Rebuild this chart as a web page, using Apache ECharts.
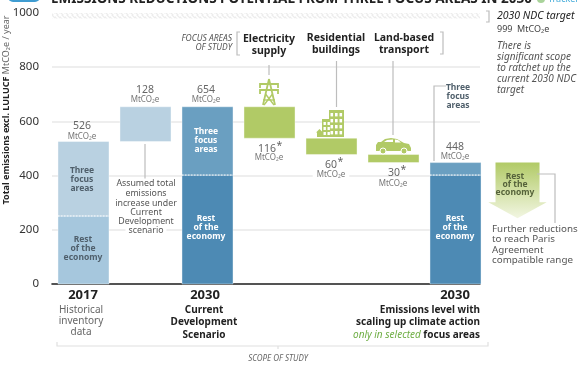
<!DOCTYPE html>
<html>
<head>
<meta charset="utf-8">
<style>
html, body { margin: 0; padding: 0; background: #fff; }
#chart { width: 580px; height: 366px; }
</style>
</head>
<body>
<div id="chart"></div>
<script src="https://cdn.jsdelivr.net/npm/echarts@6/dist/echarts.min.js"></script>
<script>
const FONT = '"Noto Sans", sans-serif';

const yTicks = [0, 200, 400, 600, 800, 1000];
const ndcTarget = 999;

// one entry per block: column, from, to, block kind
const segColumn = [0, 0, 1, 2, 2, 3, 4, 5, 6, 6];
const segLow = [0, 251, 526, 0, 402, 538, 478, 448, 0, 402];
const segHigh = [251, 526, 654, 402, 654, 654, 538, 478, 402, 448];
const segKind = ['pale', 'paler', 'paler', 'deep', 'mid', 'green', 'green', 'green', 'deep', 'mid'];

// dotted divider between focus areas and rest of economy
const splitColumn = [0, 2, 6];
const splitValue = [251, 402, 402];

// further reductions arrow: column, from, shoulder, tip
const arrowColumn = 7;
const arrowValues = [448, 302, 243];

const kindColors = { pale: '#a6c7dd', paler: '#b9d1e1', deep: '#4d8ab4', mid: '#6a9fc1', green: '#b1ca66' };
const GREEN = '#b1ca66';

// hatched band for the 2030 NDC target
const hatch = document.createElement('canvas');
hatch.width = 5;
hatch.height = 5;
const hctx = hatch.getContext('2d');
hctx.strokeStyle = '#ececec';
hctx.lineWidth = 1.3;
hctx.beginPath();
hctx.moveTo(-1, 1); hctx.lineTo(4, 6);
hctx.moveTo(1, -1); hctx.lineTo(6, 4);
hctx.stroke();

function txt(x, y, text, size, color, opt) {
    opt = opt || {};
    return {
        type: 'text', x: x, y: y, z: 100, rotation: opt.rotation || 0,
        style: Object.assign({
            text: text,
            font: (opt.italic ? 'italic ' : '') + (opt.bold ? 'bold ' : '') + size + 'px ' + FONT,
            fill: color,
            align: opt.align || 'center',
            verticalAlign: 'middle'
        }, opt.style || {})
    };
}
function lines(x, ys, rows, size, color, opt) {
    return rows.map((r, i) => txt(x, ys[i], r, size, color, opt));
}
function rule(points, color, width) {
    return { type: 'polyline', z: 90, shape: { points: points }, style: { stroke: color || '#bdbdbd', lineWidth: width || 1.2, fill: null } };
}
function box(x, y, w, h, fill) {
    return { type: 'rect', z: 95, shape: { x: x, y: y, width: w, height: h }, style: { fill: fill || GREEN } };
}
function poly(points, fill) {
    return { type: 'polygon', z: 95, shape: { points: points }, style: { fill: fill || GREEN } };
}
function unitLabel(x, y, bg) {
    return txt(x, y, 'MtCO₂e', 8, '#777', bg ? { style: { backgroundColor: '#fff', padding: [0, 4] } } : {});
}
function amount(x, y, value) {
    return txt(x, y, value, 10.5, '#666');
}
function starred(x, y, value) {
    return [txt(x, y, value, 10.5, '#666', { align: 'right' }), txt(x + 0.5, y - 3, '*', 10.5, '#666', { align: 'left' })];
}

const DARK = '#222';
const GREY = '#666';
const BLOCK = '#4f5f6b';

const graphics = [].concat(
    // header, cut off by the top of the picture
    [{ type: 'rect', z: 90, shape: { x: 8, y: -8, width: 32, height: 10, r: 5 }, style: { fill: '#3f9cd1' } }],
    txt(51, -1, 'EMISSIONS REDUCTIONS POTENTIAL FROM THREE FOCUS AREAS IN 2030', 13.5, DARK, { bold: true, align: 'left' }),
    [{ type: 'circle', z: 90, shape: { cx: 541, cy: -1, r: 4 }, style: { fill: '#a9d39a' } }],
    txt(548, -1, 'Tracker', 9, '#3fa9d8', { align: 'left' }),

    txt(6, 110, '', 9, DARK, {
        rotation: Math.PI / 2,
        style: {
            text: '{b|Total emissions excl. LULUCF} {g|MtCO₂e / year}',
            rich: {
                b: { font: 'bold 9px ' + FONT, fill: DARK },
                g: { font: '9px ' + FONT, fill: '#666' }
            }
        }
    }),

    // focus area heading
    lines(232, [39, 48], ['FOCUS AREAS', 'OF STUDY'], 8.5, '#555', { italic: true, align: 'right' }),
    [rule([[240, 32], [237, 32], [237, 55], [240, 55]]), rule([[440, 32], [443, 32], [443, 54], [440, 54]])],
    lines(269, [39, 51], ['Electricity', 'supply'], 10.5, DARK, { bold: true }),
    lines(336, [38, 50], ['Residential', 'buildings'], 10.5, DARK, { bold: true }),
    lines(404, [38, 50], ['Land-based', 'transport'], 10.5, DARK, { bold: true }),
    [rule([[269, 65], [269, 75]]), rule([[336.5, 61], [336.5, 107]]), rule([[393, 61], [393, 135]])],

    // right column
    [rule([[486, 11], [489, 11], [489, 22], [486, 22]])],
    txt(497, 16, '2030 NDC target', 10.5, DARK, { italic: true, align: 'left' }),
    txt(497, 29, ndcTarget + '  MtCO₂e', 9, '#444', { align: 'left' }),
    lines(497, [46, 57, 68, 79, 90], ['There is', 'significant scope', 'to ratchet up the', 'current 2030 NDC', 'target'], 10, '#555', { italic: true, align: 'left' }),

    // value labels
    amount(82, 126, '526'), unitLabel(82, 136.5),
    amount(145, 90, '128'), unitLabel(145, 99.5),
    amount(206, 90, '654'), unitLabel(206, 99.5),
    starred(276, 149, '116'), unitLabel(269, 158),
    starred(337, 165, '60'), unitLabel(331, 174.5, true),
    starred(400, 173, '30'), unitLabel(393, 184),
    amount(455, 147, '448'), unitLabel(455, 157),

    // block captions
    lines(82, [171, 180, 189], ['Three', 'focus', 'areas'], 8.5, BLOCK, { bold: true }),
    lines(83, [240, 249, 258], ['Rest', 'of the', 'economy'], 8.5, BLOCK, { bold: true }),
    lines(206, [132, 141, 150], ['Three', 'focus', 'areas'], 8.5, '#fff', { bold: true }),
    lines(206, [219, 228, 237], ['Rest', 'of the', 'economy'], 8.5, '#fff', { bold: true }),
    lines(455, [219, 228, 237], ['Rest', 'of the', 'economy'], 8.5, '#fff', { bold: true }),
    lines(515, [177, 185, 193], ['Rest', 'of the', 'economy'], 8.5, '#55623a', { bold: true }),

    // notes with leader lines
    [rule([[145, 144], [145, 179]])],
    lines(146, [183, 193, 203, 212, 221, 230], ['Assumed total', 'emissions', 'increase under', 'Current', 'Development', 'scenario'], 8.8, '#555', { style: { backgroundColor: '#fff', padding: [0, 3] } }),
    [rule([[446, 86], [434, 86], [434, 161]])],
    lines(458, [88, 97, 106], ['Three', 'focus', 'areas'], 8.5, BLOCK, { bold: true }),
    [rule([[537, 174], [555, 174], [555, 223]])],
    lines(492, [229, 239, 250, 260], ['Further reductions', 'to reach Paris', 'Agreement', 'compatible range'], 9.8, '#555', { align: 'left' }),

    // bottom captions
    txt(83, 295, '2017', 13, DARK, { bold: true }),
    lines(81, [310, 321, 332], ['Historical', 'inventory', 'data'], 10, GREY),
    txt(205, 295, '2030', 13, DARK, { bold: true }),
    lines(204, [310, 322, 335], ['Current', 'Development', 'Scenario'], 10, DARK, { bold: true }),
    txt(455, 295, '2030', 13, DARK, { bold: true }),
    lines(480, [310, 322], ['Emissions level with', 'scaling up climate action'], 10, DARK, { bold: true, align: 'right' }),
    txt(480, 335, '', 10, DARK, {
        align: 'right',
        style: {
            text: '{g|only in selected} {b|focus areas}',
            rich: {
                g: { font: 'italic 10px ' + FONT, fill: '#6fae45' },
                b: { font: 'bold 10px ' + FONT, fill: DARK }
            }
        }
    }),
    [rule([[57, 342], [57, 346], [488, 346], [488, 342]], '#e0e0e0'), rule([[278, 346], [278, 349]], '#e0e0e0')],
    txt(278, 359, 'SCOPE OF STUDY', 8, '#666', { italic: true }),

    // pylon
    [rule([[269, 79], [263, 105]], GREEN, 1.8), rule([[269, 79], [275, 105]], GREEN, 1.8),
     rule([[260, 88], [260, 84], [278, 84], [278, 88]], GREEN, 1.8),
     rule([[260, 94], [260, 90], [278, 90], [278, 94]], GREEN, 1.8),
     rule([[265.5, 94], [274, 105]], GREEN, 1.4), rule([[272.5, 94], [264, 105]], GREEN, 1.4),
     rule([[263, 100], [275, 100]], GREEN, 1.4)],

    // buildings
    [box(329, 110, 15, 27), box(322, 119, 10, 18), box(317, 132, 6, 5), poly([[316, 132.5], [319.5, 129], [323, 132.5]])],
    [330.5, 335, 339.5].reduce((a, x) => a.concat([113, 119, 125, 131].map(y => box(x, y, 2.6, 3.4, '#fff'))), []),
    [323.5, 327.5].reduce((a, x) => a.concat([122, 127, 132].map(y => box(x, y, 2.4, 3, '#fff'))), []),

    // car
    [poly([[376, 151], [376, 145], [378, 142], [381, 142], [385, 139], [391, 138], [397, 139], [404, 143], [409, 144], [411, 148], [411, 151]]),
     { type: 'circle', z: 96, shape: { cx: 383, cy: 151, r: 3 }, style: { fill: GREEN, stroke: '#fff', lineWidth: 1 } },
     { type: 'circle', z: 96, shape: { cx: 404, cy: 151, r: 3 }, style: { fill: GREEN, stroke: '#fff', lineWidth: 1 } },
     poly([[384, 142], [387, 140], [393, 139.5], [393, 142]], '#fff'),
     poly([[395, 139.5], [398, 140], [401, 142.5], [395, 142.5]], '#fff')]
);

const chart = echarts.init(document.getElementById('chart'), null, { renderer: 'canvas' });

chart.setOption({
    animation: false,
    backgroundColor: '#fff',
    grid: { left: 52, right: 100, top: 13, bottom: 82 },
    xAxis: {
        type: 'value', min: -0.508, max: 6.395,
        axisLabel: { show: false }, axisTick: { show: false }, splitLine: { show: false },
        axisLine: { show: true, onZero: true, lineStyle: { color: '#222', width: 1.6 } }
    },
    yAxis: {
        type: 'value', min: yTicks[0], max: yTicks[yTicks.length - 1], interval: 200,
        axisLine: { show: false }, axisTick: { show: false },
        axisLabel: { color: '#333', fontSize: 11.5, fontFamily: FONT, margin: 13, formatter: function (val) { return String(val); } },
        splitLine: {
            lineStyle: { color: '#e8e8e8', width: 1.5 },
            // top line is replaced by the hatched band
            showMaxLine: false
        }
    },
    series: [
        {
            // NDC band
            type: 'custom', z: 2, data: [[ndcTarget]],
            renderItem: function (params, api) {
                const left = api.coord([-0.508, 1000]);
                const right = api.coord([6.395, 980]);
                return {
                    type: 'rect',
                    shape: { x: left[0], y: left[1], width: right[0] - left[0], height: right[1] - left[1] },
                    style: { fill: { image: hatch, repeat: 'repeat' } }
                };
            }
        },
        {
            type: 'custom', z: 3,
            data: segColumn.map((c, i) => [c, segLow[i], segHigh[i], i]),
            encode: { x: 0, y: [1, 2] },
            renderItem: function (params, api) {
                const w = api.size([0.823, 0])[0];
                const top = api.coord([api.value(0), api.value(2)]);
                const bottom = api.coord([api.value(0), api.value(1)]);
                return {
                    type: 'rect',
                    shape: { x: top[0] - w / 2, y: top[1], width: w, height: bottom[1] - top[1] },
                    style: { fill: kindColors[segKind[api.value(3)]], stroke: '#fff', lineWidth: 0.4 }
                };
            }
        },
        {
            type: 'custom', z: 4,
            data: splitColumn.map((c, i) => [c, splitValue[i]]),
            renderItem: function (params, api) {
                const w = api.size([0.823, 0])[0];
                const p = api.coord([api.value(0), api.value(1)]);
                return {
                    type: 'line',
                    shape: { x1: p[0] - w / 2, y1: p[1], x2: p[0] + w / 2, y2: p[1] },
                    style: { stroke: '#fff', lineWidth: 0.9, lineDash: [1.5, 1.5] }
                };
            }
        },
        {
            type: 'custom', z: 3, clip: false,
            data: [[arrowColumn, arrowValues[0], arrowValues[1], arrowValues[2]]],
            renderItem: function (params, api) {
                const c = api.value(0);
                const a = api.coord([c - 0.355, api.value(1)]);
                const b = api.coord([c + 0.355, api.value(1)]);
                const s1 = api.coord([c + 0.355, api.value(2)]);
                const s2 = api.coord([c + 0.47, api.value(2)]);
                const tip = api.coord([c, api.value(3)]);
                const s3 = api.coord([c - 0.47, api.value(2)]);
                const s4 = api.coord([c - 0.355, api.value(2)]);
                return {
                    type: 'polygon',
                    shape: { points: [a, b, s1, s2, tip, s3, s4] },
                    style: {
                        fill: new echarts.graphic.LinearGradient(0, 0, 0, 1, [
                            { offset: 0, color: '#b1ca66' },
                            { offset: 1, color: '#f2f6e2' }
                        ])
                    }
                };
            }
        }
    ],
    graphic: { elements: graphics }
});
</script>
</body>
</html>
